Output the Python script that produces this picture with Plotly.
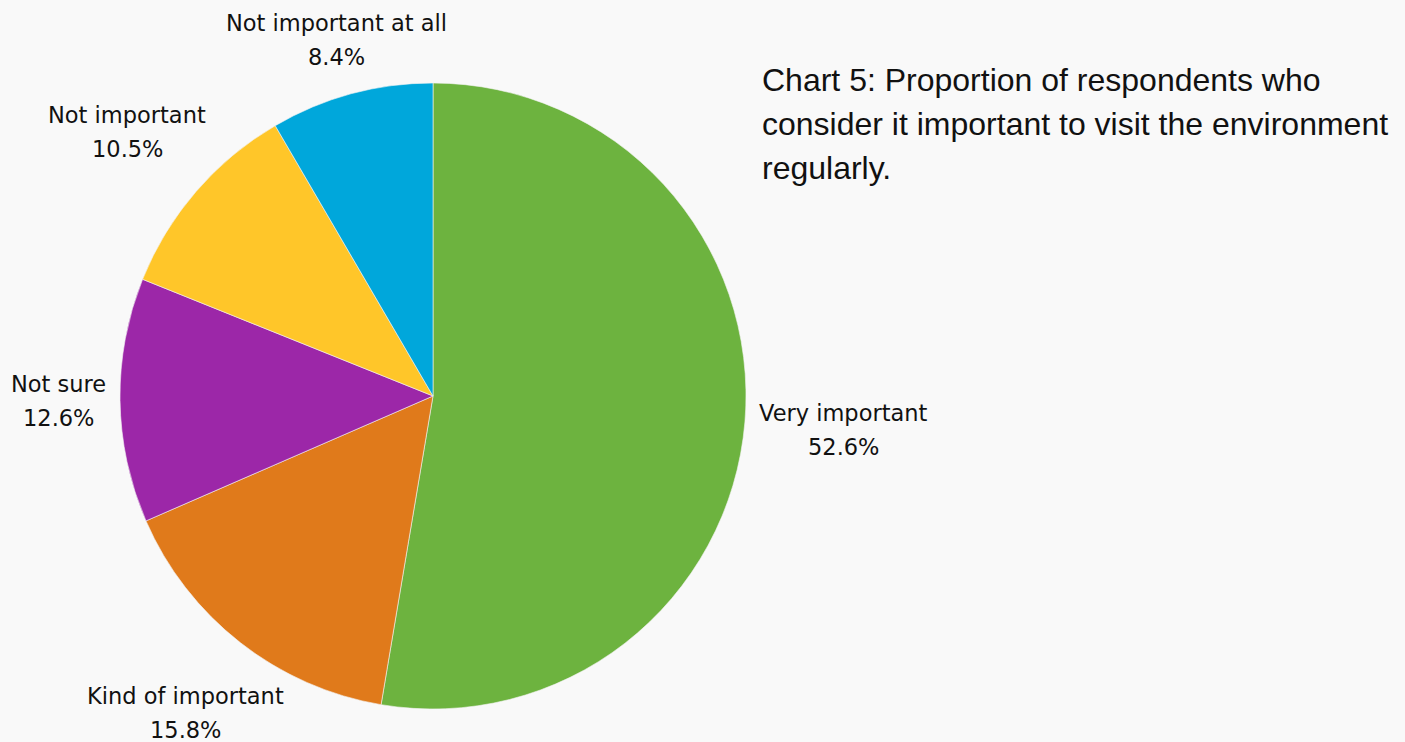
import math
import plotly.graph_objects as go

categories = ["Very important", "Kind of important", "Not sure",
              "Not important", "Not important at all"]
shares = [52.6, 15.8, 12.6, 10.5, 8.4]
colors = ["#6db33f", "#e07a1b", "#9c27a8", "#ffc629", "#00a7db"]

title_lines = ["Chart 5: Proportion of respondents who",
               "consider it important to visit the environment",
               "regularly."]

W, H = 1405, 742
cx, cy, r = 433, 396, 313
# distance (px) from the pie centre to the middle of each label block
label_dist = [412, 402, 375, 404, 369]
line_gap = 34
label_font = dict(family="DejaVu Sans, sans-serif", size=22.5, color="#111111")

fig = go.Figure(go.Pie(
    labels=categories,
    values=shares,
    sort=False,
    direction="clockwise",
    rotation=0,
    marker=dict(colors=colors, line=dict(color="#f4f4f4", width=0.6)),
    textinfo="none",
    hoverinfo="label+value",
    showlegend=False,
    domain=dict(x=[(cx - r) / W, (cx + r) / W],
                y=[1 - (cy + r) / H, 1 - (cy - r) / H]),
))

# slice labels placed along each slice's mid-angle
total = sum(shares)
start = 0.0
for name, val, dist in zip(categories, shares, label_dist):
    mid = (start + val / 2) / total * 2 * math.pi
    start += val
    lx = cx + dist * math.sin(mid)
    ly = cy - dist * math.cos(mid)
    for txt, shift in ((name, line_gap / 2), (f"{val:.1f}%", -line_gap / 2)):
        fig.add_annotation(
            text=txt, x=lx / W, y=1 - ly / H, xref="paper", yref="paper",
            xanchor="center", yanchor="middle", yshift=shift,
            showarrow=False, font=label_font, borderpad=0,
        )

for i, line in enumerate(title_lines):
    fig.add_annotation(
        text=line, x=760 / W, y=1 - (80 + 44 * i) / H,
        xref="paper", yref="paper", xanchor="left", yanchor="middle",
        showarrow=False,
        font=dict(family="Liberation Sans, Arial, sans-serif", size=32,
                  color="#111111"),
    )

fig.update_layout(
    width=W, height=H,
    margin=dict(l=0, r=0, t=0, b=0),
    paper_bgcolor="#f9f9f9",
    plot_bgcolor="#f9f9f9",
)

fig.write_html("out.html")
